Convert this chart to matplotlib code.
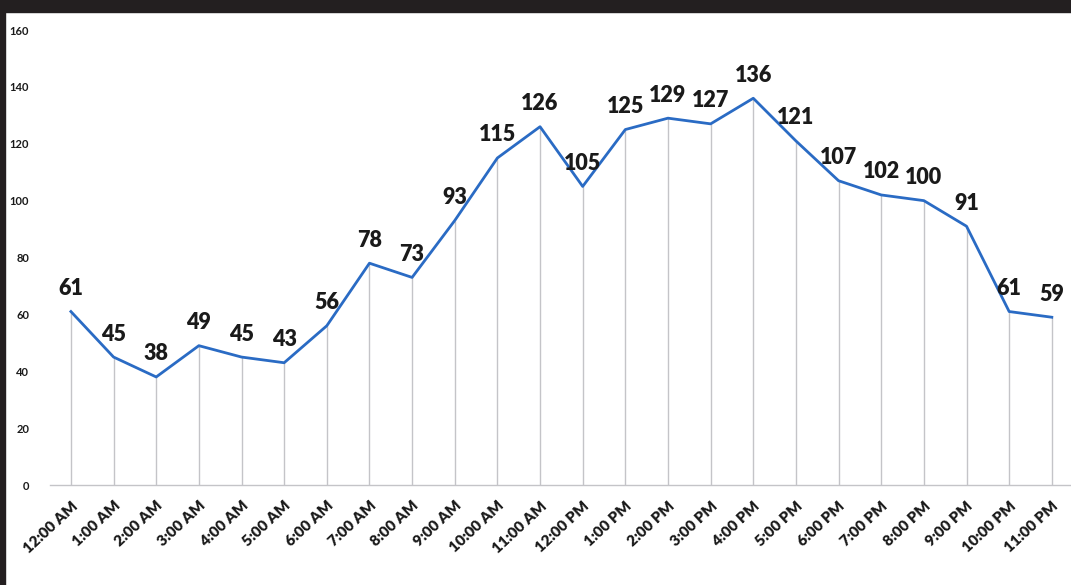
import numpy as np
import matplotlib.pyplot as plt
from matplotlib.patches import Rectangle


hours = [ "12:00 AM", "1:00 AM", "2:00 AM", "3:00 AM", "4:00 AM", "5:00 AM",
          "6:00 AM", "7:00 AM", "8:00 AM", "9:00 AM", "10:00 AM", "11:00 AM",
          "12:00 PM", "1:00 PM", "2:00 PM", "3:00 PM", "4:00 PM", "5:00 PM",
          "6:00 PM", "7:00 PM", "8:00 PM", "9:00 PM", "10:00 PM", "11:00 PM" ]
counts = [ 61, 45, 38, 49, 45, 43, 56, 78, 73, 93, 115, 126,
           105, 125, 129, 127, 136, 121, 107, 102, 100, 91, 61, 59 ]
y_ticks = [ 0, 20, 40, 60, 80, 100, 120, 140, 160 ]

plt.rcParams['font.family'] = [ 'Lato', 'DejaVu Sans' ]


def Plot_Hourly( out_path ):

    fig = plt.figure( figsize=(10.71, 5.85), dpi=100 )
    ax = fig.add_axes( [0.0467, 0.1709, 0.9533, 0.7778] )

    x = np.arange( len(counts) )

    # drop lines from each point to the baseline
    ax.vlines( x, 0, counts, color="#c4c4c8", lw=1.0, zorder=1 )
    ax.plot( x, counts, color="#2a6bc4", lw=2.0, zorder=3 )

    for xi, v in zip( x, counts ):
        ax.annotate( str(v), (xi, v), xytext=(0, 9), textcoords="offset points",
                     ha="center", va="bottom", fontsize=15.5, fontweight="heavy",
                     color="#1a1a1a", zorder=4 )

    ax.set_xlim( -0.49, 23.45 )
    ax.set_ylim( 0, 160 )
    ax.set_yticks( y_ticks )
    ax.set_yticklabels( [str(t) for t in y_ticks], fontsize=8, fontweight="bold" )
    ax.set_xticks( x )
    ax.set_xticklabels( hours, rotation=43, ha="right", rotation_mode="anchor",
                        fontsize=11, fontweight="heavy" )
    ax.tick_params( axis="y", length=0, pad=15, labelcolor="#1a1a1a" )
    ax.tick_params( axis="x", length=0, pad=10, labelcolor="#1a1a1a" )

    for side in ( "top", "right", "left" ):
        ax.spines[side].set_visible( False )
    ax.spines["bottom"].set_color( "#c4c4c8" )
    ax.spines["bottom"].set_linewidth( 1.0 )

    # dark frame along the top and left edges
    fig.patches.append( Rectangle( (0, 0.979), 1, 0.021, transform=fig.transFigure,
                                   color="#231f20", zorder=10 ) )
    fig.patches.append( Rectangle( (0, 0), 0.0045, 1, transform=fig.transFigure,
                                   color="#231f20", zorder=10 ) )

    fig.savefig( out_path, dpi=100 )


if __name__=="__main__":
    Plot_Hourly( "out.png" )
